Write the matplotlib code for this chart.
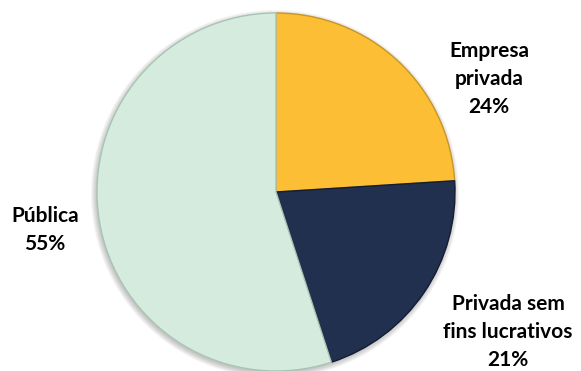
import matplotlib.pyplot as plt
from matplotlib.patches import Circle

# slice data (clockwise from top)
labels = [['Empresa', 'privada'], ['Privada sem', 'fins lucrativos'], ['Pública']]
shares = [24, 21, 55]
colors = ['#FCBE34', '#223050', '#D5EBDE']
edges = ['#C99624', '#141C30', '#A9C4B4']

# label centre x and baseline of first line, in pixels from top-left
label_pos = [(489, 57), (508, 310), (45, 222)]
line_gap = 28

H = 371
fig = plt.figure(figsize=(5.81, 3.71), dpi=100)
ax = fig.add_axes([0, 0, 1, 1])

cx, cy, r = 276, H - 192, 179

# soft shadow round the pie
for i in range(6):
    ax.add_patch(Circle((cx - 1, cy - 2), r + 5 - i, color='#000000',
                        alpha=0.04, lw=0, zorder=0))

wedges, _ = ax.pie(shares, colors=colors, startangle=90, counterclock=False,
                   center=(cx, cy), radius=r, frame=True,
                   wedgeprops=dict(linewidth=1.0))
for w, ec in zip(wedges, edges):
    w.set_edgecolor(ec)
    w.set_zorder(2)

ax.set_xlim(0, 581)
ax.set_ylim(0, H)
ax.set_aspect('equal')
ax.axis('off')

for lab, val, (px, py) in zip(labels, shares, label_pos):
    lines = lab + [str(val) + '%']
    for k, txt in enumerate(lines):
        ax.text(px, H - (py + k * line_gap), txt, ha='center', va='baseline',
                fontsize=15, fontweight='bold', family='Lato', color='#000000')

plt.savefig('out.png', dpi=100)
